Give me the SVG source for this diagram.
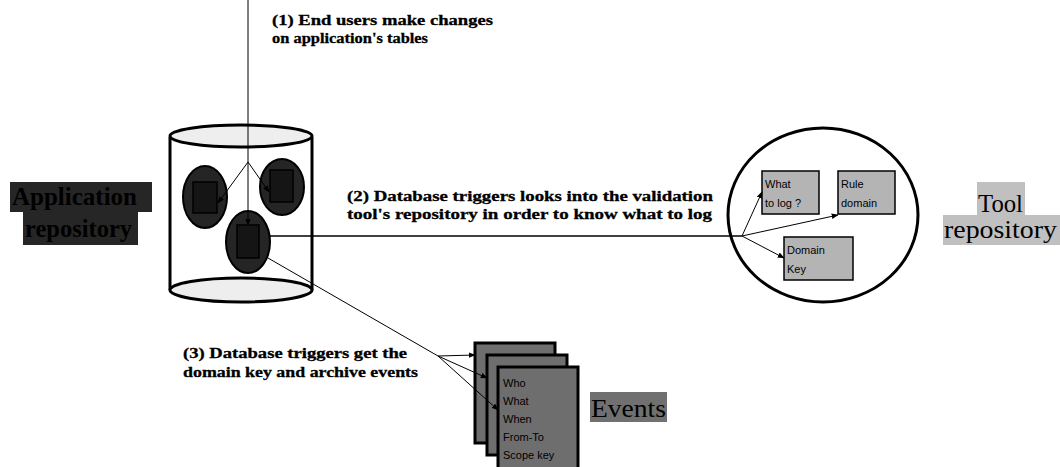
<svg xmlns="http://www.w3.org/2000/svg" width="1060" height="467" viewBox="0 0 1060 467">
<defs>
<marker id="ah" viewBox="0 0 10 10" refX="9" refY="5" markerWidth="7" markerHeight="7" orient="auto" markerUnits="userSpaceOnUse">
<path d="M0,1 L10,5 L0,9 Z" fill="#000"/>
</marker>
<style>
.lbl{font-family:"Liberation Serif","Times New Roman",serif;font-weight:bold;font-size:15px;fill:#000;stroke:#000;stroke-width:0.3}
.big{font-family:"Liberation Serif","Times New Roman",serif;font-size:25px;fill:#000}
.sm{font-family:"Liberation Sans",Arial,sans-serif;font-size:11px;fill:#000}
.conn{stroke:#000;stroke-width:1;fill:none;marker-end:url(#ah)}
.oval{fill:#252525;stroke:#000;stroke-width:2}
.inr{fill:#151515;stroke:#000;stroke-width:1.5}
.box{fill:#b4b4b4;stroke:#000;stroke-width:1.5}
.page{fill:#6e6e6e;stroke:#000;stroke-width:3}
</style>
</defs>
<rect width="1060" height="467" fill="#fff"/>

<g id="app-repository-label">
<rect x="10" y="182" width="142" height="30" fill="#262626"/>
<rect x="23" y="212" width="115" height="33" fill="#262626"/>
<text class="big" x="12" y="205" textLength="125" lengthAdjust="spacingAndGlyphs" font-weight="bold">Application</text>
<text class="big" x="25" y="237" textLength="107" lengthAdjust="spacingAndGlyphs" font-weight="bold">repository</text>
</g>

<g id="cylinder">
<rect x="170" y="137" width="142" height="153" fill="#fff"/>
<line x1="170" y1="137" x2="170" y2="290" stroke="#000" stroke-width="3"/>
<line x1="312" y1="137" x2="312" y2="290" stroke="#000" stroke-width="3"/>
<ellipse cx="241" cy="290" rx="71" ry="12" fill="#eeeeee" stroke="#000" stroke-width="3"/>
<ellipse cx="241" cy="136" rx="71" ry="11" fill="#eeeeee" stroke="#000" stroke-width="3"/>
</g>
<g id="table-left">
<ellipse class="oval" cx="205" cy="197" rx="22" ry="31"/>
<rect class="inr" x="193" y="182" width="24" height="31"/>
</g>
<g id="table-right">
<ellipse class="oval" cx="282" cy="187" rx="22" ry="28"/>
<rect class="inr" x="270" y="170" width="23" height="32"/>
</g>
<g id="table-middle">
<ellipse class="oval" cx="248" cy="242" rx="22" ry="31"/>
<rect class="inr" x="237" y="225" width="22" height="33"/>
</g>

<g id="tool-repository">
<ellipse cx="823" cy="215" rx="95" ry="87" fill="#fff" stroke="#000" stroke-width="3"/>
</g>
<g id="box-what">
<rect class="box" x="762" y="171" width="57" height="43"/>
<text class="sm" x="765" y="188">What</text>
<text class="sm" x="765" y="207">to log ?</text>
</g>
<g id="box-rule">
<rect class="box" x="838" y="171" width="57" height="43"/>
<text class="sm" x="841" y="188">Rule</text>
<text class="sm" x="841" y="207">domain</text>
</g>
<g id="box-domain">
<rect class="box" x="784" y="237" width="69" height="43"/>
<text class="sm" x="787" y="254">Domain</text>
<text class="sm" x="787" y="273">Key</text>
</g>

<g id="tool-repository-label">
<rect x="977" y="182" width="48" height="33" fill="#c0c0c0"/>
<rect x="943" y="215" width="117" height="30" fill="#c0c0c0"/>
<text class="big" x="978" y="212" textLength="45" lengthAdjust="spacingAndGlyphs">Tool</text>
<text class="big" x="944" y="238" textLength="113" lengthAdjust="spacingAndGlyphs">repository</text>
</g>

<g id="events-pages">
<rect class="page" x="475" y="343" width="80" height="100"/>
<rect class="page" x="487" y="355" width="80" height="100"/>
<rect class="page" x="498" y="367" width="80" height="102"/>
<text class="sm" x="503" y="387">Who</text>
<text class="sm" x="503" y="405">What</text>
<text class="sm" x="503" y="423">When</text>
<text class="sm" x="503" y="441">From-To</text>
<text class="sm" x="503" y="459">Scope key</text>
</g>
<g id="events-label">
<rect x="590" y="392" width="77" height="30" fill="#707070"/>
<text class="big" x="591" y="417" textLength="75" lengthAdjust="spacingAndGlyphs">Events</text>
</g>

<g id="connectors">
<line x1="248" y1="0" x2="248" y2="225" class="conn"/>
<line x1="248" y1="162" x2="218" y2="203" class="conn"/>
<line x1="248" y1="162" x2="269" y2="192" class="conn"/>
<line x1="270" y1="236" x2="742" y2="236" stroke="#000" stroke-width="1.5"/>
<line x1="742" y1="236" x2="762" y2="192" class="conn"/>
<line x1="742" y1="236" x2="838" y2="215" class="conn"/>
<line x1="742" y1="236" x2="784" y2="258" class="conn"/>
<line x1="268" y1="258" x2="438" y2="356" stroke="#000" stroke-width="1"/>
<line x1="438" y1="356" x2="475" y2="355" class="conn"/>
<line x1="438" y1="356" x2="487" y2="378" class="conn"/>
<line x1="438" y1="356" x2="498" y2="410" class="conn"/>
</g>

<g id="labels">
<text class="lbl" x="272" y="25" textLength="221" lengthAdjust="spacingAndGlyphs">(1) End users make changes</text>
<text class="lbl" x="272" y="43" textLength="156" lengthAdjust="spacingAndGlyphs">on application's tables</text>
<text class="lbl" x="347" y="201" textLength="366" lengthAdjust="spacingAndGlyphs">(2) Database triggers looks into the validation</text>
<text class="lbl" x="347" y="219" textLength="365" lengthAdjust="spacingAndGlyphs">tool's repository in order to know what to log</text>
<text class="lbl" x="183" y="358" textLength="224" lengthAdjust="spacingAndGlyphs">(3) Database triggers get the</text>
<text class="lbl" x="183" y="377" textLength="235" lengthAdjust="spacingAndGlyphs">domain key and archive events</text>
</g>
</svg>
